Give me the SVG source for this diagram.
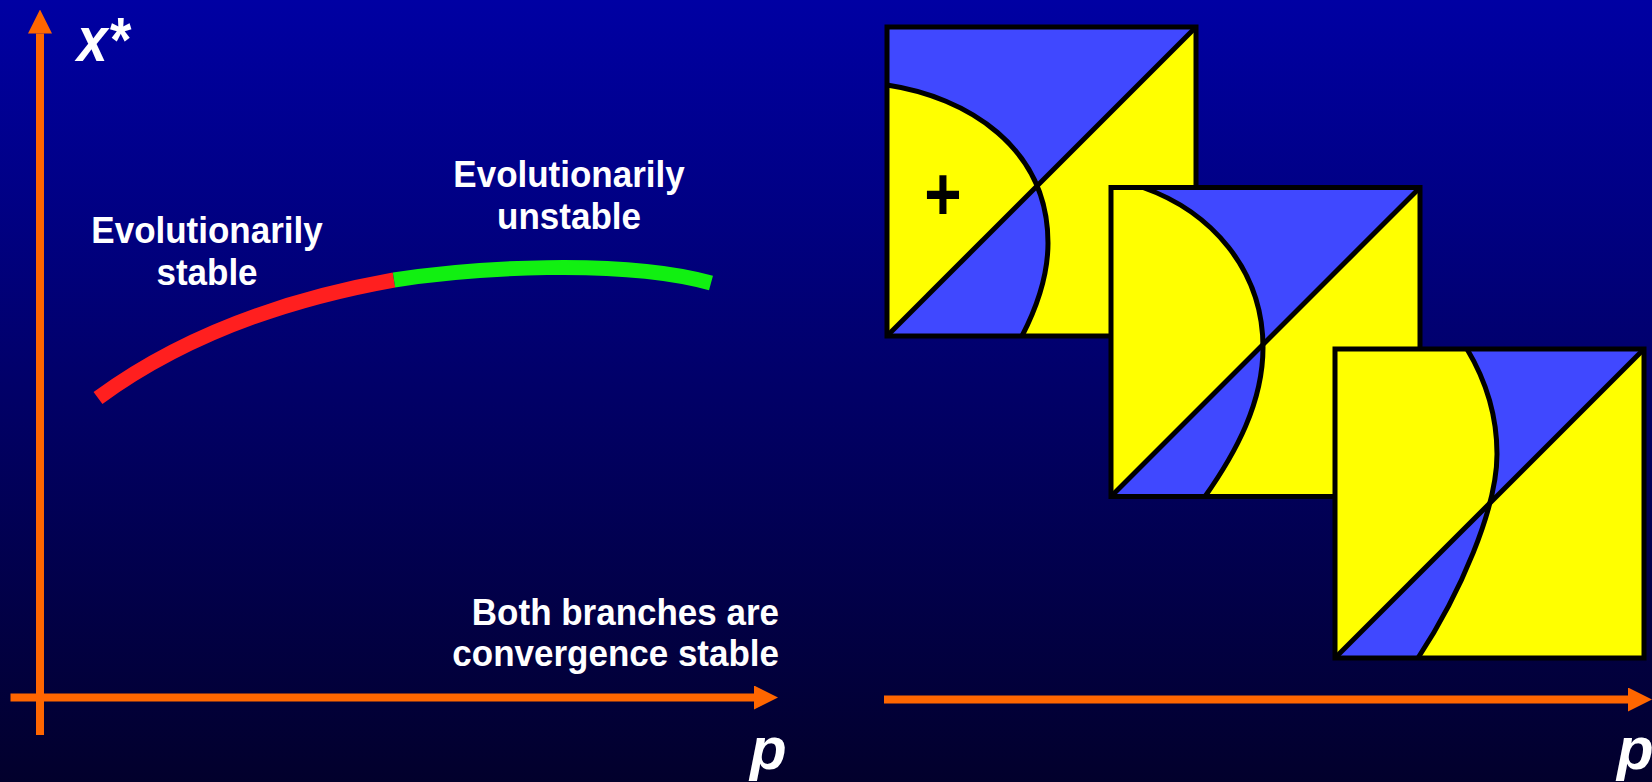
<svg xmlns="http://www.w3.org/2000/svg" width="1652" height="782" viewBox="0 0 1652 782">
  <defs>
    <linearGradient id="bg" x1="0" y1="0" x2="0" y2="1">
      <stop offset="0" stop-color="#0000a3"/>
      <stop offset="1" stop-color="#02002c"/>
    </linearGradient>
    <marker id="head" markerUnits="userSpaceOnUse" markerWidth="24" markerHeight="24" viewBox="0 0 24 24" refX="0" refY="12" orient="auto">
      <path d="M0,0 L24,12 L0,24 Z" fill="#ff6600"/>
    </marker>
    <style>
      .axis { stroke: #ff6600; stroke-width: 8; fill: none; marker-end: url(#head); }
      .lbl { font-family: "Liberation Sans", Arial, sans-serif; font-weight: bold; font-size: 35px; fill: #ffffff; }
      .var { font-family: "Liberation Sans", Arial, sans-serif; font-weight: bold; font-style: italic; font-size: 60px; fill: #ffffff; }
      .sq { fill: #ffff00; }
      .bl { fill: #4048ff; fill-rule: evenodd; }
      .ln { fill: none; stroke: #000000; stroke-width: 5; }
      .plus { font-family: "Liberation Sans", Arial, sans-serif; font-weight: bold; font-size: 64px; fill: #000000; }
    </style>
  </defs>

  <rect x="0" y="0" width="1652" height="782" fill="url(#bg)"/>

  <g id="connectors">
    <line class="axis" x1="40" y1="735" x2="40" y2="33.5"/>
    <line class="axis" x1="10.5" y1="697.5" x2="754" y2="697.5"/>
    <line class="axis" x1="884" y1="699.5" x2="1628" y2="699.5"/>
  </g>

  <g id="curve">
    <path d="M98,398 Q215,312 394,280" fill="none" stroke="#ff1f1f" stroke-width="15"/>
    <path d="M394,280 C470,268 620,258 711,283" fill="none" stroke="#11f011" stroke-width="15"/>
  </g>

  <g id="labels">
    <text class="var" transform="translate(77,61) scale(0.92,1.05)">x*</text>
    <text class="var" x="750" y="769">p</text>
    <text class="var" x="1617" y="769">p</text>
    <text class="lbl" transform="translate(207,243) scale(1,1.08)" text-anchor="middle">Evolutionarily</text>
    <text class="lbl" transform="translate(207,285) scale(1,1.08)" text-anchor="middle">stable</text>
    <text class="lbl" transform="translate(569,187) scale(1,1.08)" text-anchor="middle">Evolutionarily</text>
    <text class="lbl" transform="translate(569,229) scale(1,1.08)" text-anchor="middle">unstable</text>
    <text class="lbl" transform="translate(779,625) scale(1,1.08)" text-anchor="end">Both branches are</text>
    <text class="lbl" transform="translate(779,666) scale(1,1.08)" text-anchor="end">convergence stable</text>
  </g>

  <g id="box1" transform="translate(887,27)">
    <rect class="sq" x="0" y="0" width="309" height="309"/>
    <path class="bl" d="M0,0 H309 L0,309 Z M0,58 C80,70 161,120 161,216 C161,250 150,280 135,309 L0,309 Z"/>
    <path class="ln" d="M0,309 L309,0"/>
    <path class="ln" d="M0,58 C80,70 161,120 161,216 C161,250 150,280 135,309"/>
    <rect class="ln" x="0" y="0" width="309" height="309"/>
    <text class="plus" transform="translate(56,193) scale(1,1.2)" text-anchor="middle">+</text>
  </g>

  <g id="box2" transform="translate(1111,187.5)">
    <rect class="sq" x="0" y="0" width="309" height="309"/>
    <path class="bl" d="M0,0 H309 L0,309 Z M0,0 L32,0 C100,24 152,82 152,160 C152,215 125,265 94,309 L0,309 Z"/>
    <path class="ln" d="M0,309 L309,0"/>
    <path class="ln" d="M32,0 C100,24 152,82 152,160 C152,215 125,265 94,309"/>
    <rect class="ln" x="0" y="0" width="309" height="309"/>
  </g>

  <g id="box3" transform="translate(1335,349)">
    <rect class="sq" x="0" y="0" width="309" height="309"/>
    <path class="bl" d="M0,0 H309 L0,309 Z M0,0 L132,0 C150,30 162,65 162,105 C162,160 125,245 83,309 L0,309 Z"/>
    <path class="ln" d="M0,309 L309,0"/>
    <path class="ln" d="M132,0 C150,30 162,65 162,105 C162,160 125,245 83,309"/>
    <rect class="ln" x="0" y="0" width="309" height="309"/>
  </g>
</svg>
